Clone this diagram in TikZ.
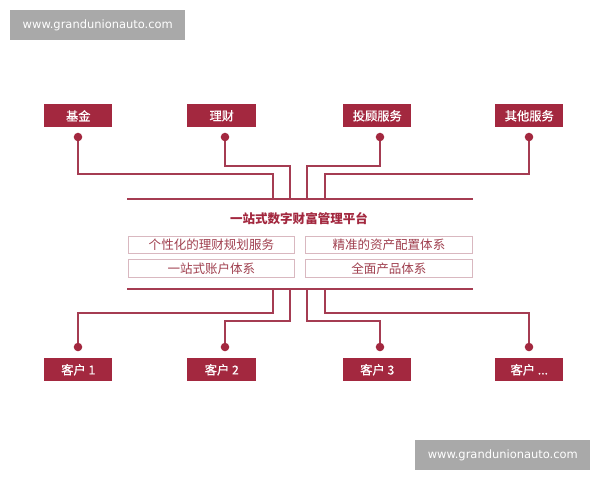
\documentclass[tikz,border=0pt]{standalone}
\usepackage{fontspec}
\setmainfont{Noto Sans CJK SC}
\newfontfamily\boxfont[FakeBold=0.6]{Noto Sans CJK SC}
\newfontfamily\wmfont{DejaVu Sans}
\definecolor{boxred}{HTML}{A3283F}
\definecolor{linered}{HTML}{A53C52}
\definecolor{cellline}{HTML}{D9B8C0}
\definecolor{celltext}{HTML}{A0404F}
\definecolor{wmgrey}{HTML}{A9A9A9}
\begin{document}
\begin{tikzpicture}[x=0.75pt,y=-0.75pt,
  redbox/.style={fill=boxred,draw=none,text=white,font=\boxfont\fontsize{9.2}{11}\selectfont,inner sep=0pt},
  cell/.style={draw=cellline,line width=0.6pt,text=celltext,font=\fontsize{9.4}{11}\selectfont,inner sep=0pt},
  conn/.style={draw=linered,line width=1pt},
  dotc/.style={fill=boxred},
  wm/.style={fill=wmgrey,text=white,font=\wmfont\fontsize{8.6}{10}\selectfont,inner sep=0pt}]
\useasboundingbox (0,0) rectangle (600,480);
\fill[white] (0,0) rectangle (600,480);
% watermarks
\node[wm,minimum width=131.25pt,minimum height=22.5pt,anchor=north west] (wm1) at (10,10) {www.grandunionauto.com};
\node[wm,minimum width=131.25pt,minimum height=22.5pt,anchor=north west] (wm2) at (415,440) {www.grandunionauto.com};
% top boxes
\node[redbox,minimum width=51pt,minimum height=17.25pt,anchor=north west] (jj) at (44,104) {基金};
\node[redbox,minimum width=51.75pt,minimum height=17.25pt,anchor=north west] (lc) at (187,104) {理财};
\node[redbox,minimum width=51pt,minimum height=17.25pt,anchor=north west] (tg) at (343,104) {投顾服务};
\node[redbox,minimum width=51pt,minimum height=17.25pt,anchor=north west] (qt) at (495,104) {其他服务};
% bottom boxes
\node[redbox,minimum width=51pt,minimum height=17.25pt,anchor=north west] (k1) at (44,358) {客户 1};
\node[redbox,minimum width=51.75pt,minimum height=17.25pt,anchor=north west] (k2) at (187,358) {客户 2};
\node[redbox,minimum width=51pt,minimum height=17.25pt,anchor=north west] (k3) at (343,358) {客户 3};
\node[redbox,minimum width=51pt,minimum height=17.25pt,anchor=north west] (k4) at (495,358) {客户 ...};
% dots
\coordinate (d1) at (78,137); \coordinate (d2) at (225,137);
\coordinate (d3) at (380,137); \coordinate (d4) at (529,137);
\coordinate (e1) at (78,347); \coordinate (e2) at (225,347);
\coordinate (e3) at (380,347); \coordinate (e4) at (529,347);
% bus lines
\coordinate (tl) at (127,199); \coordinate (tr) at (473,199);
\coordinate (bl) at (127,289); \coordinate (br) at (473,289);
\draw[conn] (tl) -- (tr);
\draw[conn] (bl) -- (br);
% top connectors
\draw[conn] (d1) |- (273,174) -- (273,199);
\draw[conn] (d2) |- (290,166) -- (290,199);
\draw[conn] (d3) |- (307,166) -- (307,199);
\draw[conn] (d4) |- (325,174) -- (325,199);
% bottom connectors
\draw[conn] (273,289) |- (78,313) -- (e1);
\draw[conn] (290,289) |- (225,321) -- (e2);
\draw[conn] (307,289) |- (380,321) -- (e3);
\draw[conn] (325,289) |- (529,313) -- (e4);
\foreach \d in {d1,d2,d3,d4,e1,e2,e3,e4} \fill[dotc] (\d) circle (3.2pt);
% platform
\node[font=\bfseries\fontsize{9.4}{11}\selectfont,text=boxred] (title) at (299,219) {一站式数字财富管理平台};
\node[cell,minimum width=124.5pt,minimum height=12.75pt,anchor=north west] (c1) at (128,236) {个性化的理财规划服务};
\node[cell,minimum width=125.25pt,minimum height=12.75pt,anchor=north west] (c2) at (305,236) {精准的资产配置体系};
\node[cell,minimum width=124.5pt,minimum height=13.5pt,anchor=north west] (c3) at (128,259) {一站式账户体系};
\node[cell,minimum width=125.25pt,minimum height=13.5pt,anchor=north west] (c4) at (305,259) {全面产品体系};
\end{tikzpicture}
\end{document}
